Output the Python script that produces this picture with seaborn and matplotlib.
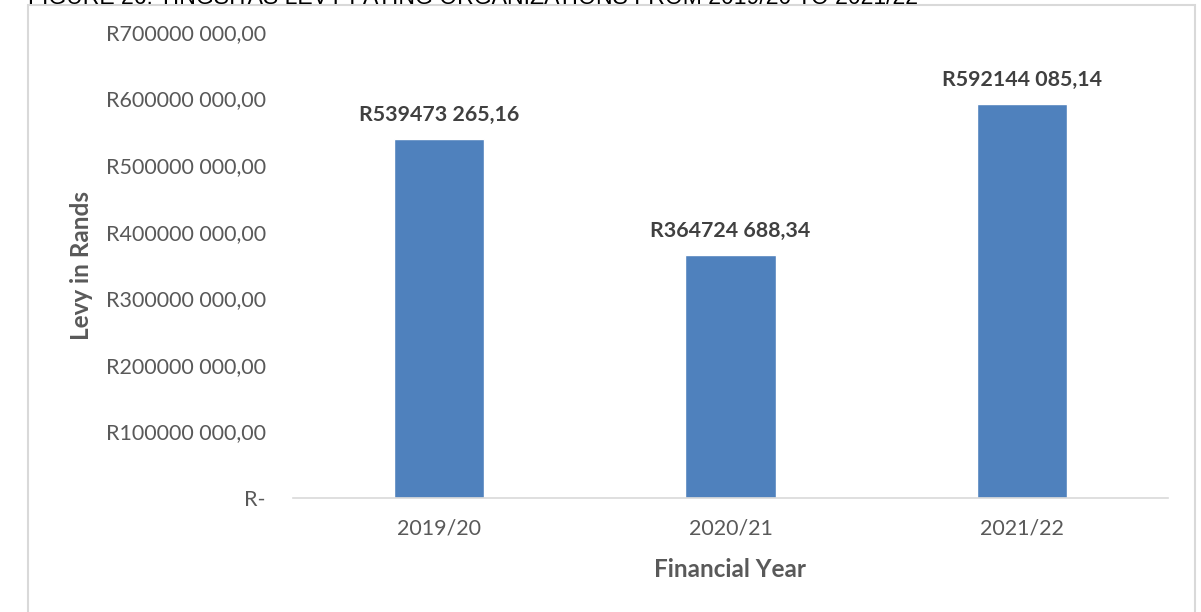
import matplotlib
matplotlib.use("Agg")
import matplotlib.pyplot as plt
import seaborn as sns
import pandas as pd
from matplotlib.patches import Rectangle

years = ["2019/20", "2020/21", "2021/22"]
levy = [539473265.16, 364724688.34, 592144085.14]
value_labels = ["R539473 265,16", "R364724 688,34", "R592144 085,14"]
ytick_values = [0, 100e6, 200e6, 300e6, 400e6, 500e6, 600e6, 700e6]
ytick_labels = ["R-", "R100000 000,00", "R200000 000,00", "R300000 000,00",
                "R400000 000,00", "R500000 000,00", "R600000 000,00", "R700000 000,00"]
title = "FIGURE 26: TINGSITAS LEVY PAYING ORGANIZATIONS FROM 2019/20 TO 2021/22"

sns.set_theme(style="white")
plt.rcParams['font.family'] = ['Lato', 'DejaVu Sans']

W, H = 1201, 612
fig = plt.figure(figsize=(W / 100, H / 100), dpi=100)
ax = fig.add_axes([293 / W, 1 - 498 / H, (1168 - 293) / W, (498 - 32) / H])

df = pd.DataFrame({"year": years, "levy": levy})
sns.barplot(data=df, x="year", y="levy", color="#4F81BD", saturation=1,
            width=0.31, ax=ax)

ax.set_ylim(0, 700e6)
ax.set_yticks(ytick_values)
ax.set_yticklabels(ytick_labels)
ax.tick_params(axis="y", length=0, pad=19.5, labelsize=15.5, labelcolor="#595959")
ax.tick_params(axis="x", length=0, pad=15, labelsize=15.4, labelcolor="#595959")
for s in ["top", "right", "left"]:
    ax.spines[s].set_visible(False)
ax.spines["bottom"].set_color("#D9D9D9")
ax.spines["bottom"].set_linewidth(1.2)
ax.grid(False)

for i, (v, lab) in enumerate(zip(levy, value_labels)):
    ax.annotate(lab, (i, v), xytext=(0, 10), textcoords="offset points",
                ha="center", va="bottom", fontsize=15.4, fontweight="bold",
                color="#404040")

ax.set_xlabel("Financial Year", fontsize=17.5, fontweight="bold", color="#595959", labelpad=14)
ax.set_ylabel("Levy in Rands", fontsize=17.5, fontweight="bold", color="#595959", labelpad=9)

# outer chart border
fig.add_artist(Rectangle((28 / W, -0.02), (1195 - 28) / W, 1 - 5 / H + 0.02,
                         transform=fig.transFigure, fill=False,
                         edgecolor="#D9D9D9", linewidth=1.5))

# cropped caption at the very top
fig.text(28 / W, 1 - 4 / H, title, ha="left", va="baseline", fontsize=16.6,
         color="black", family=["Liberation Sans", "DejaVu Sans"])

fig.savefig("out.png", dpi=100)
